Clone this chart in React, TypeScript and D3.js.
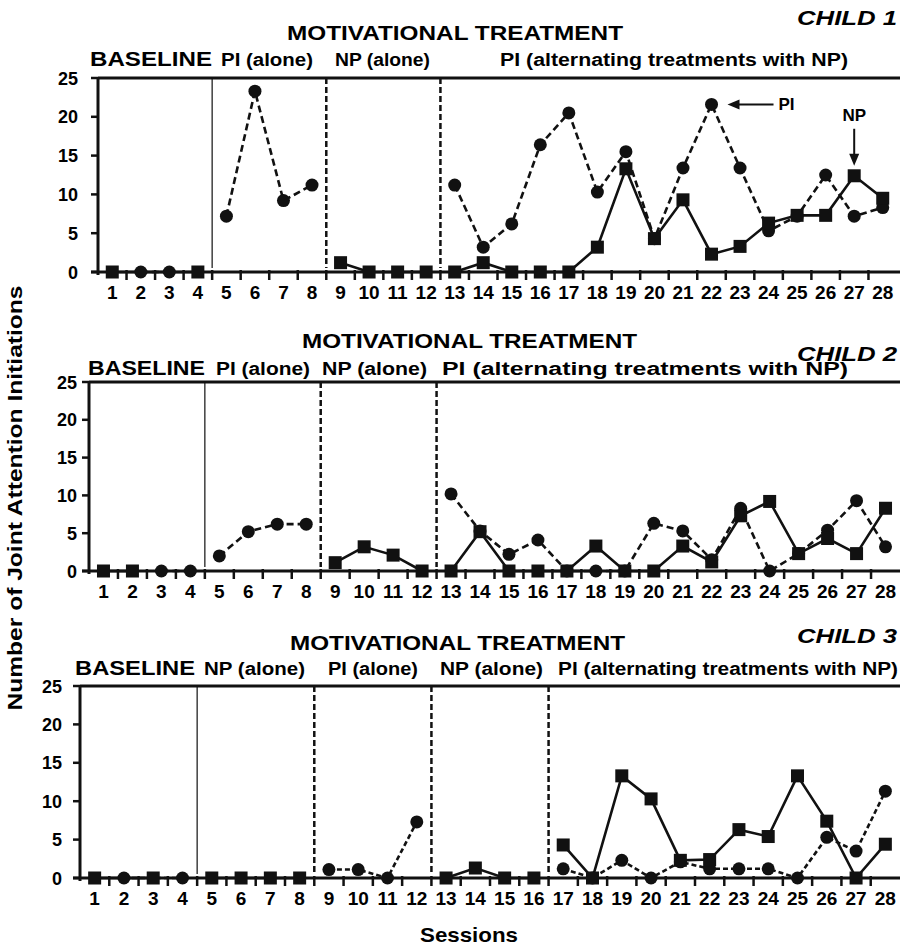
import React from "react";
import * as d3 from "d3";

// sessions 1..28, one value per session (null = no point for that series)
const sessions = [1, 2, 3, 4, 5, 6, 7, 8, 9, 10, 11, 12, 13, 14, 15, 16, 17, 18, 19, 20, 21, 22, 23, 24, 25, 26, 27, 28];
const yTicks = [0, 5, 10, 15, 20, 25];

const piChild1 = [null, 0, 0, null, 7.2, 23.3, 9.2, 11.2, null, null, null, null, 11.2, 3.2, 6.2, 16.4, 20.5, 10.3, 15.5, 4.3, 13.4, 21.6, 13.4, 5.3, 7.2, 12.5, 7.2, 8.3];
const npChild1 = [0, null, null, 0, null, null, null, null, 1.2, 0, 0, 0, 0, 1.2, 0, 0, 0, 3.2, 13.3, 4.3, 9.3, 2.3, 3.3, 6.3, 7.3, 7.3, 12.4, 9.5];

const piChild2 = [null, null, 0, 0, 2, 5.2, 6.2, 6.2, null, null, null, null, 10.2, 5.3, 2.2, 4.1, 0, 0, 0, 6.3, 5.3, 1.5, 8.3, 0, 2.3, 5.4, 9.3, 3.2];
const npChild2 = [0, 0, null, null, null, null, null, null, 1.1, 3.2, 2.1, 0, 0, 5.2, 0, 0, 0, 3.3, 0, 0, 3.3, 1.2, 7.3, 9.2, 2.3, 4.3, 2.3, 8.3];

const piChild3 = [null, 0, null, 0, null, null, null, null, 1.1, 1.1, 0, 7.3, null, null, null, null, 1.2, 0, 2.3, 0, 2.1, 1.2, 1.2, 1.2, 0, 5.3, 3.5, 11.3];
const npChild3 = [0, null, 0, null, 0, 0, 0, 0, null, null, null, null, 0, 1.3, 0, 0, 4.3, 0, 13.3, 10.3, 2.3, 2.4, 6.3, 5.4, 13.3, 7.4, 0, 4.4];

// phases as [first session, last session]
const phasesA = [[1, 4], [5, 8], [9, 12], [13, 28]];
const phasesB = [[1, 4], [5, 8], [9, 12], [13, 16], [17, 28]];

const labelsChild1 = ["BASELINE", "PI (alone)", "NP (alone)", "PI (alternating treatments with NP)"];
const labelsChild2 = ["BASELINE", "PI (alone)", "NP (alone)", "PI (alternating treatments with NP)"];
const labelsChild3 = ["BASELINE", "NP (alone)", "PI (alone)", "NP (alone)", "PI (alternating treatments with NP)"];

const FONT = "'Liberation Sans', Arial, Helvetica, sans-serif";

const panels = [
  {
    child: "CHILD 1", pi: piChild1, np: npChild1, phases: phasesA, labels: labelsChild1,
    left: 98, right: 897, top: 78, zero: 272, tickGap: 20,
    titleX: [287, 623], titleY: 40, childY: 25, rowY: 66,
    labelX: [[90, 212], [221, 313], [335, 430], [500, 848]],
    piDash: "7,4",
  },
  {
    child: "CHILD 2", pi: piChild2, np: npChild2, phases: phasesA, labels: labelsChild2,
    left: 89, right: 900, top: 382, zero: 571, tickGap: 12,
    titleX: [302, 637], titleY: 348, childY: 361, rowY: 375,
    labelX: [[88, 205], [216, 310], [322, 427], [442, 848]],
    piDash: "7,4",
  },
  {
    child: "CHILD 3", pi: piChild3, np: npChild3, phases: phasesB, labels: labelsChild3,
    left: 80, right: 900, top: 686, zero: 878, tickGap: 18,
    titleX: [290, 625], titleY: 650, childY: 643, rowY: 675,
    labelX: [[75, 195], [204, 305], [328, 418], [440, 543], [558, 898]],
    piDash: "5,3",
  },
];

function Panel({ p }: { p: any }) {
  const x = d3.scaleLinear().domain([0.5, 28.5]).range([p.left, p.right]);
  const y = d3.scaleLinear().domain([0, 25]).range([p.zero, p.top]);
  const line = d3.line<number[]>().x(d => x(d[0])).y(d => y(d[1]));

  const segments = (vals: (number | null)[]) =>
    p.phases.map(([a, b]: number[]) =>
      sessions.filter(s => s >= a && s <= b && vals[s - 1] != null).map(s => [s, vals[s - 1] as number])
    ).filter((seg: number[][]) => seg.length > 1);

  const pts = (vals: (number | null)[]) => sessions.filter(s => vals[s - 1] != null);
  const boundaries = p.phases.slice(0, -1).map((ph: number[]) => ph[1] + 0.5);
  const halfTicks = sessions.map(s => s + 0.5).slice(0, -1);

  return (
    <g>
      {/* header */}
      <text x={p.titleX[0]} y={p.titleY} fontSize={21} fontWeight="bold" fontFamily={FONT}
        textLength={p.titleX[1] - p.titleX[0]} lengthAdjust="spacingAndGlyphs">MOTIVATIONAL TREATMENT</text>
      <text x={797} y={p.childY} fontSize={21} fontWeight="bold" fontStyle="italic" fontFamily={FONT}
        textLength={100} lengthAdjust="spacingAndGlyphs">{p.child}</text>
      {p.labels.map((t: string, i: number) => (
        <text key={i} x={p.labelX[i][0]} y={p.rowY} fontSize={i === 0 ? 21 : 18} fontWeight="bold" fontFamily={FONT}
          textLength={p.labelX[i][1] - p.labelX[i][0]} lengthAdjust="spacingAndGlyphs">{t}</text>
      ))}

      {/* top line and axes */}
      <line x1={p.left} x2={900} y1={y(25)} y2={y(25)} stroke="#111" strokeWidth={3} />
      <line x1={p.left} x2={p.left} y1={y(25) - 1} y2={y(0) + 3} stroke="#111" strokeWidth={3} />
      <line x1={p.left - 7} x2={900} y1={y(0)} y2={y(0)} stroke="#111" strokeWidth={3} />
      {yTicks.map(t => (
        <g key={t}>
          <line x1={p.left - 7} x2={p.left} y1={y(t)} y2={y(t)} stroke="#111" strokeWidth={2.5} />
          <text x={p.left - p.tickGap} y={y(t) + 6.5} textAnchor="end" fontSize={18} fontWeight="bold" fontFamily={FONT}>{t}</text>
        </g>
      ))}
      {halfTicks.map(t => (
        <line key={t} x1={x(t)} x2={x(t)} y1={y(0) - 2} y2={y(0) + 8} stroke="#111" strokeWidth={2.5} />
      ))}
      {sessions.map(s => (
        <text key={s} x={x(s)} y={y(0) + 27} textAnchor="middle" fontSize={19} fontWeight="bold" fontFamily={FONT}>{s}</text>
      ))}

      {/* phase change lines */}
      {boundaries.map((b: number, i: number) => (
        <line key={b} x1={x(b)} x2={x(b)} y1={y(25)} y2={y(0) - 4} stroke="#111"
          strokeWidth={i === 0 ? 1.2 : 2.5} strokeDasharray={i === 0 ? undefined : "6,3"} />
      ))}

      {/* series lines */}
      {segments(p.pi).map((seg: number[][], i: number) => (
        <path key={"pi" + i} d={line(seg as any) || ""} fill="none" stroke="#111" strokeWidth={2.6} strokeDasharray={p.piDash} />
      ))}
      {segments(p.np).map((seg: number[][], i: number) => (
        <path key={"np" + i} d={line(seg as any) || ""} fill="none" stroke="#111" strokeWidth={2.6} />
      ))}

      {/* markers */}
      {pts(p.pi).map(s => (
        <circle key={"c" + s} cx={x(s)} cy={y(p.pi[s - 1])} r={6.5} fill="#111" />
      ))}
      {pts(p.np).map(s => (
        <rect key={"r" + s} x={x(s) - 6.5} y={y(p.np[s - 1]) - 6.5} width={13} height={13} fill="#111" />
      ))}

      {p.child === "CHILD 1" && (
        <g fontFamily={FONT} fontWeight="bold" fontSize={17}>
          <line x1={x(22) + 26} x2={x(22) + 62} y1={y(piChild1[21] as number)} y2={y(piChild1[21] as number)} stroke="#111" strokeWidth={2} />
          <polygon points={`${x(22) + 16},${y(piChild1[21] as number)} ${x(22) + 28},${y(piChild1[21] as number) - 5} ${x(22) + 28},${y(piChild1[21] as number) + 5}`} fill="#111" />
          <text x={x(22) + 67} y={y(piChild1[21] as number) + 6}>PI</text>
          <text x={x(27)} y={y(npChild1[26] as number) - 55} textAnchor="middle">NP</text>
          <line x1={x(27)} x2={x(27)} y1={y(npChild1[26] as number) - 47} y2={y(npChild1[26] as number) - 20} stroke="#111" strokeWidth={2} />
          <polygon points={`${x(27)},${y(npChild1[26] as number) - 10} ${x(27) - 5},${y(npChild1[26] as number) - 22} ${x(27) + 5},${y(npChild1[26] as number) - 22}`} fill="#111" />
        </g>
      )}
    </g>
  );
}

export default function App() {
  return (
    <div style={{ position: "absolute", left: 0, top: 0 }}>
      <svg width={900} height={945} style={{ display: "block", background: "#fff" }}>
        {panels.map((p, i) => <Panel key={i} p={p} />)}
        <text transform="translate(22,498) rotate(-90)" textAnchor="middle" fontSize={21} fontWeight="bold" fontFamily={FONT}
          textLength={425} lengthAdjust="spacingAndGlyphs">Number of Joint Attention Initiations</text>
        <text x={420} y={942} fontSize={21} fontWeight="bold" fontFamily={FONT}
          textLength={98} lengthAdjust="spacingAndGlyphs">Sessions</text>
      </svg>
    </div>
  );
}
